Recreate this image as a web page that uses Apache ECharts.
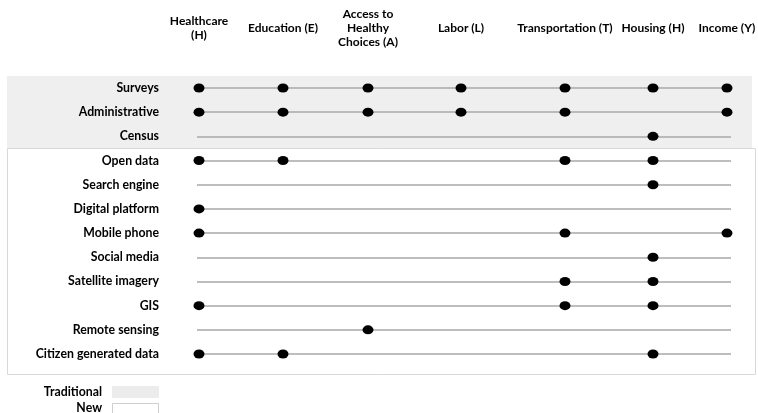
<!DOCTYPE html>
<html>
<head>
<meta charset="utf-8">
<script src="https://cdn.jsdelivr.net/npm/echarts@6/dist/echarts.min.js"></script>
<style>html,body{margin:0;padding:0;background:#fff}#c{width:758px;height:413px}</style>
</head>
<body>
<div id="c"></div>
<script>
// ---- data ----
const columns = ['Healthcare (H)', 'Education (E)', 'Access to Healthy Choices (A)', 'Labor (L)', 'Transportation (T)', 'Housing (H)', 'Income (Y)'];
const columnHeaders = ['Healthcare\n(H)', 'Education (E)', 'Access to\nHealthy\nChoices (A)', 'Labor (L)', 'Transportation (T)', 'Housing (H)', 'Income (Y)'];
const sources = ['Surveys', 'Administrative', 'Census', 'Open data', 'Search engine', 'Digital platform', 'Mobile phone', 'Social media', 'Satellite imagery', 'GIS', 'Remote sensing', 'Citizen generated data'];
const traditionalSources = ['Surveys', 'Administrative', 'Census'];
const newSources = ['Open data', 'Search engine', 'Digital platform', 'Mobile phone', 'Social media', 'Satellite imagery', 'GIS', 'Remote sensing', 'Citizen generated data'];
// which domains each data source covers (one list per source, same order as sources)
const coverage = [
  ['Healthcare (H)', 'Education (E)', 'Access to Healthy Choices (A)', 'Labor (L)', 'Transportation (T)', 'Housing (H)', 'Income (Y)'],
  ['Healthcare (H)', 'Education (E)', 'Access to Healthy Choices (A)', 'Labor (L)', 'Transportation (T)', 'Income (Y)'],
  ['Housing (H)'],
  ['Healthcare (H)', 'Education (E)', 'Transportation (T)', 'Housing (H)'],
  ['Housing (H)'],
  ['Healthcare (H)'],
  ['Healthcare (H)', 'Transportation (T)', 'Income (Y)'],
  ['Housing (H)'],
  ['Transportation (T)', 'Housing (H)'],
  ['Healthcare (H)', 'Transportation (T)', 'Housing (H)'],
  ['Access to Healthy Choices (A)'],
  ['Healthcare (H)', 'Education (E)', 'Housing (H)']
];

// ---- layout (column placement along the horizontal axis) ----
const colPos = [2, 86, 171, 264, 368, 456, 530];

const points = [];
sources.forEach((s, i) => {
  coverage[i].forEach(c => points.push([colPos[columns.indexOf(c)], s]));
});

const FONT = 'Lato';
const chart = echarts.init(document.getElementById('c'), null, {renderer: 'canvas'});
chart.setOption({
  animation: false,
  backgroundColor: '#fff',
  grid: {left: 197, right: 27, top: 88, bottom: 59, outerBoundsMode: 'none'},
  xAxis: {
    type: 'value', position: 'top', min: 0, max: 534,
    axisLine: {show: false}, axisTick: {show: false}, splitLine: {show: false},
    axisLabel: {
      customValues: colPos,
      formatter: v => columnHeaders[colPos.indexOf(v)],
      verticalAlign: 'middle', margin: 60,
      fontFamily: FONT, fontWeight: 'bold', fontSize: 12, color: '#000', lineHeight: 14, align: 'center'
    }
  },
  yAxis: {
    type: 'category', data: sources, inverse: true, boundaryGap: false,
    axisLine: {show: false}, axisTick: {show: false},
    splitLine: {show: true, lineStyle: {color: '#a8a8a8', width: 1.5}},
    axisLabel: {margin: 38, fontFamily: FONT, fontWeight: 'bold', fontSize: 12.3, color: '#000', padding: [5, 0, 0, 0]}
  },
  graphic: [
    {type: 'rect', z: -10, shape: {x: 7, y: 76, width: 745, height: 72}, style: {fill: '#efefef'}},
    {type: 'rect', z: -10, shape: {x: 7.5, y: 148.5, width: 748, height: 226}, style: {fill: 'rgba(0,0,0,0)', stroke: '#d8d8d8', lineWidth: 1}},
    {type: 'text', z: 10, style: {x: 102, y: 392, text: 'Traditional', align: 'right', verticalAlign: 'middle', font: 'bold 12.3px ' + FONT, fill: '#000'}},
    {type: 'rect', z: 10, shape: {x: 112, y: 386, width: 47, height: 12}, style: {fill: '#ececec'}},
    {type: 'text', z: 10, style: {x: 102, y: 408, text: 'New', align: 'right', verticalAlign: 'middle', font: 'bold 12.3px ' + FONT, fill: '#000'}},
    {type: 'rect', z: 10, shape: {x: 112.5, y: 403.5, width: 46, height: 12}, style: {fill: '#fff', stroke: '#cfcfcf', lineWidth: 1}}
  ],
  series: [{
    type: 'scatter', data: points, clip: false,
    symbol: 'circle', symbolSize: [11, 9],
    itemStyle: {color: '#000', opacity: 1}
  }]
});
</script>
</body>
</html>
